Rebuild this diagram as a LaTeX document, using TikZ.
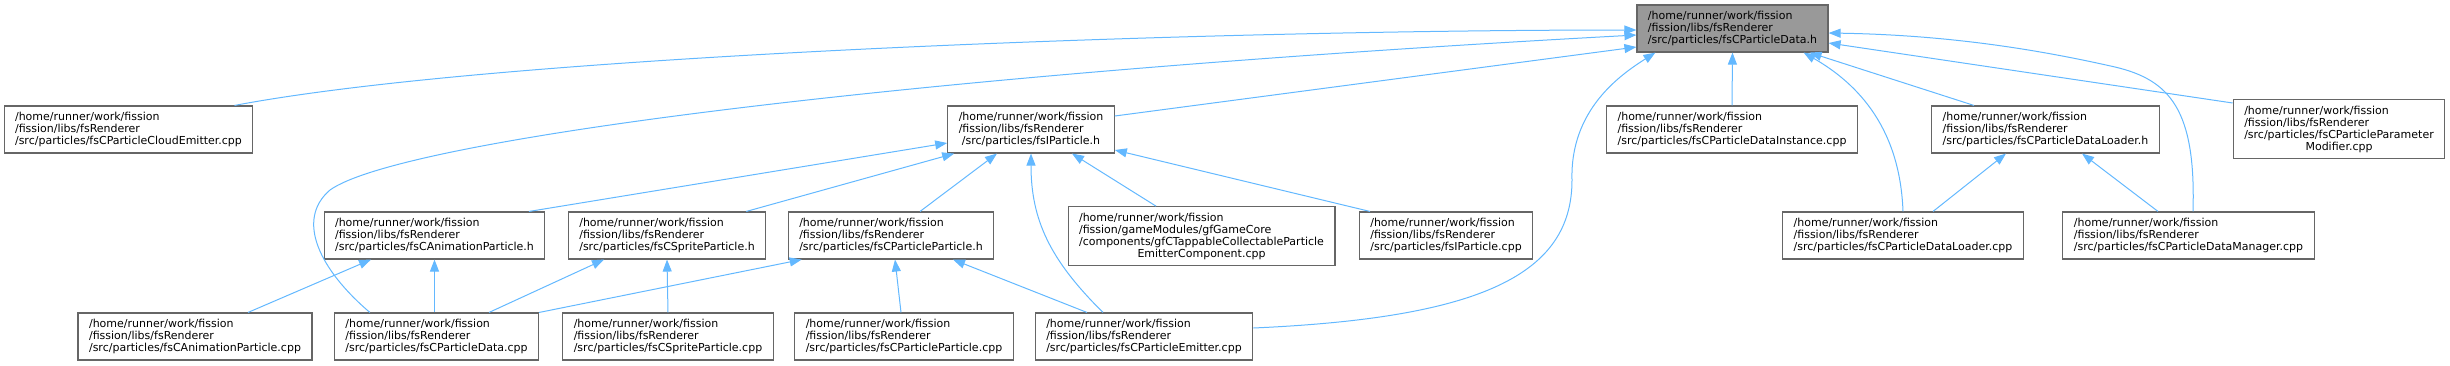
\documentclass[tikz,border=0pt]{standalone}
\usepackage{fontspec}
\setmainfont{DejaVu Sans}
\usepackage{tikz}
\usetikzlibrary{arrows.meta,calc}
\definecolor{depedge}{RGB}{99,184,255}
\definecolor{boxline}{RGB}{102,102,102}
\definecolor{mainfill}{RGB}{153,153,153}

\begin{document}
\begin{tikzpicture}[x=1pt,y=1pt,
  filebox/.style={draw=boxline,line width=1.1pt,fill=white,align=left,
    font=\fontsize{11}{12}\selectfont,inner xsep=11pt,inner ysep=6pt,minimum height=47pt},
  mainbox/.style={filebox,fill=mainfill},
  dep/.style={draw=depedge,line width=1pt,-{Triangle[length=12pt,width=9pt]}}]
  \useasboundingbox (0,0) rectangle (2450,-365);
  \node[mainbox] (fsdata) at (1732.5,-28.5) {/home/runner/work/fission\\/fission/libs/fsRenderer\\/src/particles/fsCParticleData.h};
  \node[filebox] (cloudcpp) at (128.5,-129.5) {/home/runner/work/fission\\/fission/libs/fsRenderer\\/src/particles/fsCParticleCloudEmitter.cpp};
  \node[filebox] (iparth) at (1031,-129.5) {/home/runner/work/fission\\/fission/libs/fsRenderer\\\hfil /src/particles/fsIParticle.h};
  \node[filebox] (instcpp) at (1732,-129.5) {/home/runner/work/fission\\/fission/libs/fsRenderer\\/src/particles/fsCParticleDataInstance.cpp};
  \node[filebox] (loaderh) at (2045.5,-129.5) {/home/runner/work/fission\\/fission/libs/fsRenderer\\/src/particles/fsCParticleDataLoader.h};
  \node[filebox] (paramcpp) at (2339,-129) {/home/runner/work/fission\\/fission/libs/fsRenderer\\/src/particles/fsCParticleParameter\\\hfil Modifier.cpp};
  \node[filebox] (animh) at (434.5,-235.5) {/home/runner/work/fission\\/fission/libs/fsRenderer\\/src/particles/fsCAnimationParticle.h};
  \node[filebox] (spriteh) at (667,-235.5) {/home/runner/work/fission\\/fission/libs/fsRenderer\\/src/particles/fsCSpriteParticle.h};
  \node[filebox] (pparth) at (891,-235.5) {/home/runner/work/fission\\/fission/libs/fsRenderer\\/src/particles/fsCParticleParticle.h};
  \node[filebox] (tapcpp) at (1201.5,-236) {/home/runner/work/fission\\/fission/gameModules/gfGameCore\\/components/gfCTappableCollectableParticle\\\hfil EmitterComponent.cpp};
  \node[filebox] (iparcpp) at (1446,-235.5) {/home/runner/work/fission\\/fission/libs/fsRenderer\\/src/particles/fsIParticle.cpp};
  \node[filebox] (loadercpp) at (1903,-235.5) {/home/runner/work/fission\\/fission/libs/fsRenderer\\/src/particles/fsCParticleDataLoader.cpp};
  \node[filebox] (managercpp) at (2188.5,-235.5) {/home/runner/work/fission\\/fission/libs/fsRenderer\\/src/particles/fsCParticleDataManager.cpp};
  \node[filebox] (animcpp) at (195,-336.5) {/home/runner/work/fission\\/fission/libs/fsRenderer\\/src/particles/fsCAnimationParticle.cpp};
  \node[filebox] (datacpp) at (436.5,-336.5) {/home/runner/work/fission\\/fission/libs/fsRenderer\\/src/particles/fsCParticleData.cpp};
  \node[filebox] (spritecpp) at (668,-336.5) {/home/runner/work/fission\\/fission/libs/fsRenderer\\/src/particles/fsCSpriteParticle.cpp};
  \node[filebox] (ppartcpp) at (904,-336.5) {/home/runner/work/fission\\/fission/libs/fsRenderer\\/src/particles/fsCParticleParticle.cpp};
  \node[filebox] (emittercpp) at (1144,-336.5) {/home/runner/work/fission\\/fission/libs/fsRenderer\\/src/particles/fsCParticleEmitter.cpp};

  \draw[dep] ([xshift=-19pt]cloudcpp.north east) .. controls (500,-55) and (1200,-30) .. ([yshift=-1.5pt]fsdata.west);
  \draw[dep] ([xshift=36pt]datacpp.north west) .. controls (320,-270) and (295,-220) .. (330,-190)
    .. controls (400,-140) and (900,-75) .. ([yshift=-6.5pt]fsdata.west);
  \draw[dep] ([yshift=13.5pt]iparth.east) -- ([yshift=-18.5pt]fsdata.west);
  \draw[dep] ([yshift=8.5pt]emittercpp.east) .. controls (1480,-318) and (1572,-275) .. (1572,-180)
    .. controls (1570,-110) and (1620,-75) .. ([xshift=19pt]fsdata.south west);
  \draw[dep] (instcpp.north) -- (fsdata.south);
  \draw[dep] ([xshift=-71.5pt]loaderh.north) -- ([xshift=-19pt]fsdata.south east);
  \draw[dep] (loadercpp.north) .. controls (1900,-130) and (1860,-85) .. ([xshift=-25pt]fsdata.south east);
  \draw[dep] ([xshift=4.5pt]managercpp.north) .. controls (2196,-110) and (2170,-80) .. (2115,-67)
    .. controls (2040,-50) and (1950,-35) .. ([yshift=-4.5pt]fsdata.east);
  \draw[dep] ([yshift=26pt]paramcpp.west) -- ([yshift=-14.5pt]fsdata.east);

  \draw[dep] ([xshift=-16.5pt]animh.north east) -- ([yshift=-13.5pt]iparth.west);
  \draw[dep] ([xshift=-20pt]spriteh.north east) -- ([xshift=7pt]iparth.south west);
  \draw[dep] ([xshift=29pt]pparth.north) -- ([xshift=-34pt]iparth.south);
  \draw[dep] ([xshift=-41pt]emittercpp.north) .. controls (1050,-260) and (1031,-220) .. (iparth.south);
  \draw[dep] ([xshift=-45.5pt]tapcpp.north) -- ([xshift=41pt]iparth.south);
  \draw[dep] ([xshift=-76pt]iparcpp.north) -- ([yshift=-20.5pt]iparth.east);

  \draw[dep] ([xshift=53pt]animcpp.north) -- ([xshift=-63.5pt]animh.south);
  \draw[dep] ([xshift=-2pt]datacpp.north) -- (animh.south);
  \draw[dep] ([xshift=52.5pt]datacpp.north) -- ([xshift=-63pt]spriteh.south);
  \draw[dep] (spritecpp.north) -- (spriteh.south);
  \draw[dep] (datacpp.north east) -- ([xshift=14pt]pparth.south west);
  \draw[dep] ([xshift=-3pt]ppartcpp.north) -- ([xshift=4pt]pparth.south);
  \draw[dep] ([xshift=-57pt]emittercpp.north) -- ([xshift=62pt]pparth.south);
  \draw[dep] ([xshift=30pt]loadercpp.north) -- ([xshift=-39.5pt]loaderh.south);
  \draw[dep] ([xshift=-30.5pt]managercpp.north) -- ([xshift=36.5pt]loaderh.south);
\end{tikzpicture}
\end{document}
